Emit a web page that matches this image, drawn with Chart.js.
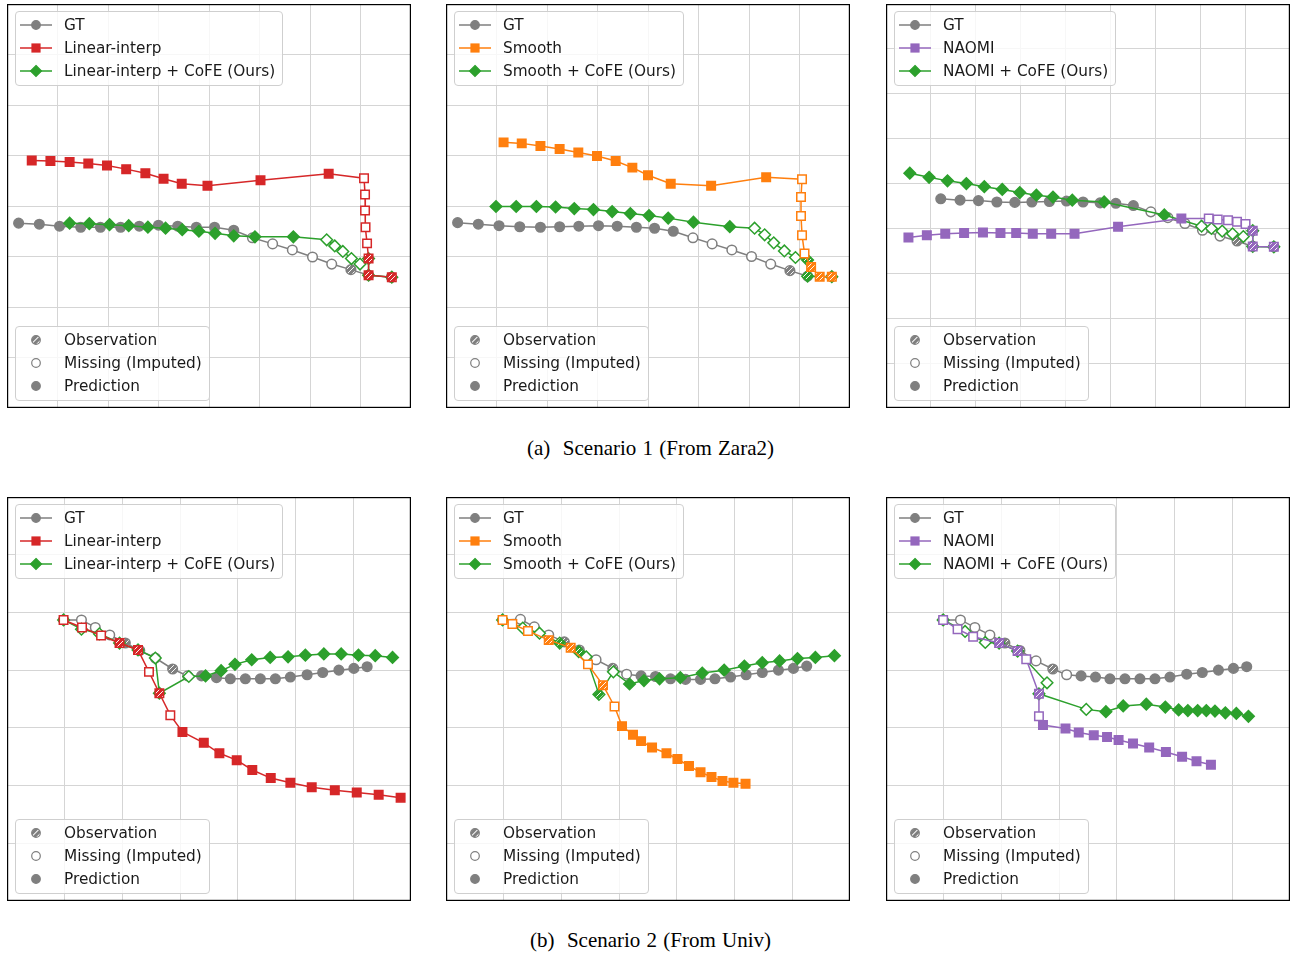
<!DOCTYPE html>
<html lang="en">
<head>
<meta charset="UTF-8">
<title>Trajectory imputation with CoFE</title>
<script src="https://cdn.jsdelivr.net/npm/chart.js"></script>
<style>
  body { margin: 0; background: #fff; width: 1291px; height: 954px; position: relative; overflow: hidden; font-family: "DejaVu Sans", sans-serif; }
  .panel { position: absolute; width: 404px; height: 404px; }
  .panel canvas { position: absolute; left: 0; top: 0; }
  .legend { position: absolute; left: 8px; z-index: 2; background: rgba(255,255,255,0.8); border: 1px solid #cfcfcf; border-radius: 4px; padding: 1px 7px 3px 4px; font-size: 15.3px; color: #1a1a1a; }
  .legend.top { top: 7px; }
  .legend.bottom { bottom: 7px; }
  .row { height: 23px; display: flex; align-items: center; white-space: nowrap; }
  .row svg { flex: none; margin-right: 12px; }
  .caption { position: absolute; left: 0; width: 1301px; text-align: center; font-family: "Liberation Serif", "Times New Roman", serif; font-size: 21px; word-spacing: 1px; color: #000; }
</style>
</head>
<body>
<svg width="0" height="0" style="position:absolute">
  <defs>
    <pattern id="hatchGray" width="4" height="4" patternUnits="userSpaceOnUse" patternTransform="rotate(45)">
      <rect width="4" height="4" fill="#7f7f7f"></rect>
      <rect width="1" height="4" fill="#fff"></rect>
    </pattern>
  </defs>
</svg>

<div class="caption" style="top:436px">(a)&nbsp; Scenario 1 (From Zara2)</div>
<div class="caption" style="top:928px">(b)&nbsp; Scenario 2 (From Univ)</div>

<script>
// trajectories in grid units (x right, y up); point kinds: h = observation, o = missing (imputed), f = prediction
const p1Gt = [[0.23,3.66],[0.64,3.64],[1.04,3.60],[1.46,3.58],[1.85,3.58],[2.25,3.58],[2.62,3.60],[3.00,3.62],[3.38,3.60],[3.75,3.58],[4.11,3.58],[4.49,3.52],[4.86,3.37],[5.26,3.25],[5.65,3.13],[6.05,2.99],[6.43,2.85],[6.81,2.74],[7.16,2.63],[7.61,2.59]];
const p1Base = [[0.49,4.90],[0.86,4.89],[1.24,4.87],[1.61,4.84],[1.98,4.80],[2.36,4.73],[2.74,4.65],[3.10,4.54],[3.46,4.44],[3.97,4.40],[5.02,4.51],[6.37,4.64],[7.07,4.55],[7.09,4.23],[7.09,3.91],[7.10,3.58],[7.13,3.26],[7.16,2.96],[7.16,2.63],[7.62,2.59]];
const p1Cofe = [[1.24,3.66],[1.63,3.65],[2.03,3.63],[2.41,3.61],[2.79,3.58],[3.14,3.56],[3.47,3.53],[3.80,3.50],[4.12,3.46],[4.49,3.41],[4.91,3.39],[5.67,3.39],[6.33,3.33],[6.49,3.21],[6.65,3.10],[6.82,2.96],[6.99,2.85],[7.16,2.96],[7.16,2.63],[7.62,2.59]];

const p2Gt = [[0.23,3.67],[0.64,3.64],[1.05,3.61],[1.46,3.59],[1.87,3.58],[2.25,3.59],[2.63,3.60],[3.02,3.61],[3.39,3.60],[3.77,3.58],[4.13,3.56],[4.50,3.50],[4.89,3.37],[5.27,3.25],[5.66,3.13],[6.05,3.00],[6.43,2.85],[6.81,2.72],[7.16,2.61],[7.64,2.60]];
const p2Base = [[1.14,5.26],[1.50,5.24],[1.87,5.19],[2.25,5.13],[2.62,5.06],[2.99,4.99],[3.36,4.89],[3.69,4.76],[4.00,4.61],[4.45,4.44],[5.25,4.40],[6.34,4.57],[7.05,4.53],[7.03,4.18],[7.03,3.80],[7.05,3.42],[7.10,3.06],[7.23,2.79],[7.40,2.60],[7.64,2.60]];
const p2Cofe = [[0.99,3.99],[1.39,3.99],[1.79,3.99],[2.17,3.98],[2.54,3.95],[2.92,3.93],[3.29,3.89],[3.65,3.85],[4.02,3.81],[4.40,3.76],[4.90,3.68],[5.62,3.59],[6.11,3.56],[6.31,3.43],[6.49,3.27],[6.70,3.11],[6.92,2.98],[7.16,2.93],[7.16,2.61],[7.64,2.60]];

const p3Gt = [[1.22,4.66],[1.65,4.63],[2.06,4.62],[2.47,4.59],[2.87,4.58],[3.25,4.59],[3.64,4.60],[4.02,4.61],[4.39,4.59],[4.77,4.57],[5.12,4.56],[5.51,4.51],[5.90,4.37],[6.28,4.24],[6.66,4.11],[7.05,3.96],[7.44,3.83],[7.82,3.72],[8.17,3.60],[8.64,3.59]];
const p3Base = [[0.50,3.80],[0.91,3.85],[1.32,3.88],[1.74,3.90],[2.16,3.91],[2.55,3.90],[2.90,3.90],[3.27,3.88],[3.68,3.88],[4.20,3.88],[5.17,4.04],[6.58,4.22],[7.19,4.22],[7.39,4.20],[7.62,4.18],[7.82,4.15],[8.01,4.10],[8.17,3.95],[8.17,3.60],[8.64,3.59]];
const p3Cofe = [[0.53,5.23],[0.96,5.14],[1.37,5.06],[1.79,5.00],[2.19,4.93],[2.59,4.87],[2.98,4.80],[3.35,4.74],[3.72,4.70],[4.15,4.63],[4.86,4.59],[6.20,4.30],[7.03,4.05],[7.25,4.00],[7.49,3.94],[7.72,3.88],[7.96,3.82],[8.17,3.95],[8.17,3.60],[8.64,3.59]];

const p4Gt = [[0.98,4.87],[1.29,4.87],[1.53,4.74],[1.78,4.61],[2.05,4.47],[2.30,4.34],[2.57,4.21],[2.87,4.02],[3.13,3.90],[3.37,3.90],[3.63,3.87],[3.87,3.85],[4.13,3.85],[4.39,3.85],[4.65,3.85],[4.91,3.88],[5.20,3.92],[5.47,3.96],[5.75,4.00],[6.01,4.03],[6.24,4.06]];
const p4Base = [[0.98,4.87],[1.30,4.74],[1.63,4.60],[1.95,4.47],[2.27,4.35],[2.46,3.97],[2.64,3.60],[2.83,3.22],[3.04,2.93],[3.41,2.74],[3.68,2.56],[3.98,2.44],[4.25,2.27],[4.57,2.13],[4.91,2.05],[5.28,1.97],[5.68,1.92],[6.06,1.88],[6.44,1.84],[6.82,1.79]];
const p4Cofe = [[0.98,4.87],[1.29,4.71],[1.60,4.63],[1.95,4.47],[2.27,4.35],[2.57,4.21],[2.64,3.60],[3.15,3.89],[3.44,3.90],[3.71,3.99],[3.95,4.10],[4.24,4.18],[4.56,4.22],[4.87,4.23],[5.17,4.26],[5.49,4.28],[5.79,4.28],[6.09,4.26],[6.38,4.25],[6.68,4.22]];

const p5Gt = [[0.98,4.87],[1.29,4.88],[1.53,4.75],[1.78,4.61],[2.05,4.49],[2.31,4.35],[2.60,4.18],[2.89,4.03],[3.13,3.93],[3.38,3.90],[3.63,3.89],[3.89,3.85],[4.15,3.84],[4.41,3.84],[4.66,3.85],[4.93,3.88],[5.20,3.92],[5.48,3.96],[5.76,4.00],[6.02,4.03],[6.25,4.07]];
const p5Base = [[0.98,4.87],[1.15,4.80],[1.42,4.68],[1.78,4.52],[2.16,4.39],[2.46,4.10],[2.72,3.74],[2.92,3.37],[3.05,3.03],[3.24,2.88],[3.38,2.77],[3.57,2.66],[3.82,2.56],[4.01,2.46],[4.21,2.34],[4.41,2.23],[4.60,2.15],[4.79,2.08],[4.98,2.05],[5.19,2.03]];
const p5Cofe = [[0.98,4.87],[1.33,4.73],[1.62,4.64],[1.97,4.47],[2.30,4.32],[2.43,4.23],[2.65,3.58],[2.90,3.97],[3.18,3.76],[3.43,3.82],[3.70,3.85],[4.06,3.87],[4.44,3.95],[4.82,4.00],[5.17,4.07],[5.48,4.13],[5.78,4.16],[6.09,4.20],[6.40,4.22],[6.73,4.25]];

const p6Gt = [[0.99,4.87],[1.29,4.87],[1.54,4.74],[1.80,4.61],[2.06,4.47],[2.32,4.34],[2.60,4.16],[2.89,4.02],[3.13,3.92],[3.38,3.90],[3.63,3.88],[3.88,3.85],[4.14,3.85],[4.40,3.85],[4.66,3.85],[4.92,3.88],[5.21,3.93],[5.48,3.96],[5.76,4.00],[6.02,4.03],[6.25,4.06]];
const p6Base = [[0.99,4.87],[1.24,4.71],[1.51,4.58],[1.96,4.47],[2.28,4.33],[2.43,4.19],[2.65,3.59],[2.65,3.20],[2.72,3.05],[3.11,2.99],[3.34,2.92],[3.60,2.87],[3.83,2.84],[4.03,2.79],[4.28,2.73],[4.56,2.66],[4.85,2.58],[5.13,2.50],[5.38,2.42],[5.63,2.36]];
const p6Cofe = [[0.99,4.87],[1.37,4.67],[1.72,4.48],[1.96,4.47],[2.28,4.33],[2.79,3.78],[2.65,3.59],[3.47,3.32],[3.81,3.28],[4.11,3.38],[4.51,3.41],[4.84,3.36],[5.07,3.31],[5.23,3.30],[5.40,3.30],[5.55,3.30],[5.70,3.29],[5.88,3.26],[6.07,3.25],[6.28,3.20]];

const kindS1 = 'ffffffffffffooooohhh';
const kindGtS2 = 'hooohhohoffffffffffff';
const kindBaseS2 = 'ooohhohoffffffffffff';
const kindCofeS2 = 'hoohhohoffffffffffff';

const methods = ['Linear-interp', 'Smooth', 'NAOMI'];
const methodColors = ['#d62728', '#ff7f0e', '#9467bd'];
const markLabels = ['Observation', 'Missing (Imputed)', 'Prediction'];
const gridCounts = [8, 8, 9, 7, 7, 7];

const GRAY = '#7f7f7f';
const GREEN = '#2ca02c';

const panels = [
  { left: 7,   top: 4,   n: gridCounts[0], m: 0, gt: p1Gt, base: p1Base, cofe: p1Cofe, kGt: kindS1, kBase: kindS1, kCofe: kindS1 },
  { left: 446, top: 4,   n: gridCounts[1], m: 1, gt: p2Gt, base: p2Base, cofe: p2Cofe, kGt: kindS1, kBase: kindS1, kCofe: kindS1 },
  { left: 886, top: 4,   n: gridCounts[2], m: 2, gt: p3Gt, base: p3Base, cofe: p3Cofe, kGt: kindS1, kBase: kindS1, kCofe: kindS1 },
  { left: 7,   top: 497, n: gridCounts[3], m: 0, gt: p4Gt, base: p4Base, cofe: p4Cofe, kGt: kindGtS2, kBase: kindBaseS2, kCofe: kindCofeS2 },
  { left: 446, top: 497, n: gridCounts[4], m: 1, gt: p5Gt, base: p5Base, cofe: p5Cofe, kGt: kindGtS2, kBase: kindBaseS2, kCofe: kindCofeS2 },
  { left: 886, top: 497, n: gridCounts[5], m: 2, gt: p6Gt, base: p6Base, cofe: p6Cofe, kGt: kindGtS2, kBase: kindBaseS2, kCofe: kindCofeS2 }
];

// small tile with white diagonal stripes for observation markers
function hatchTile(color) {
  const c = document.createElement('canvas');
  c.width = 5; c.height = 5;
  const g = c.getContext('2d');
  g.fillStyle = color;
  g.fillRect(0, 0, 5, 5);
  g.strokeStyle = 'rgba(255,255,255,0.95)';
  g.lineWidth = 1;
  g.beginPath();
  g.moveTo(0, 5); g.lineTo(5, 0);
  g.moveTo(-2.5, 2.5); g.lineTo(2.5, -2.5);
  g.moveTo(2.5, 7.5); g.lineTo(7.5, 2.5);
  g.stroke();
  return c;
}

function series(label, pts, kinds, color, style, radius, order, cx) {
  const pat = cx.createPattern(hatchTile(color), 'repeat');
  return {
    label: label,
    order: order,
    data: pts.map(p => ({ x: p[0], y: p[1] })),
    showLine: true,
    borderColor: color,
    borderWidth: 1.5,
    pointStyle: style,
    pointRadius: radius,
    pointBorderColor: color,
    pointBorderWidth: 1.5,
    pointBackgroundColor: kinds.split('').map(k => k === 'f' ? color : (k === 'o' ? '#ffffff' : pat)),
    clip: false
  };
}

const framePlugin = {
  id: 'frame',
  afterDraw(chart) {
    const { ctx, chartArea: a } = chart;
    ctx.save();
    ctx.strokeStyle = '#000';
    ctx.lineWidth = 1.2;
    ctx.strokeRect(a.left + 0.6, a.top + 0.6, a.right - a.left - 1.2, a.bottom - a.top - 1.2);
    ctx.restore();
  }
};

function marker(kind, color, fill) {
  if (kind === 'circle') return `<circle cx="16" cy="8" r="4.3" fill="${fill}" stroke="${color}" stroke-width="1.2"/>`;
  if (kind === 'rect') return `<rect x="12" y="4" width="8" height="8" fill="${fill}" stroke="${color}" stroke-width="1.2"/>`;
  return `<polygon points="16,2.5 21.5,8 16,13.5 10.5,8" fill="${fill}" stroke="${color}" stroke-width="1.2"/>`;
}

function lineRow(text, color, kind) {
  return `<div class="row"><svg width="32" height="16"><line x1="0" y1="8" x2="32" y2="8" stroke="${color}" stroke-width="1.5"/>${marker(kind, color, color)}</svg><span>${text}</span></div>`;
}

function markRow(text, fill) {
  return `<div class="row"><svg width="32" height="16">${marker('circle', GRAY, fill)}</svg><span>${text}</span></div>`;
}

panels.forEach((p, i) => {
  const div = document.createElement('div');
  div.className = 'panel';
  div.style.left = p.left + 'px';
  div.style.top = p.top + 'px';
  const canvas = document.createElement('canvas');
  canvas.width = 404; canvas.height = 404;
  div.appendChild(canvas);

  const name = methods[p.m];
  const col = methodColors[p.m];
  const top = document.createElement('div');
  top.className = 'legend top';
  top.innerHTML = lineRow('GT', GRAY, 'circle') + lineRow(name, col, 'rect') + lineRow(name + ' + CoFE (Ours)', GREEN, 'diamond');
  div.appendChild(top);

  const bottom = document.createElement('div');
  bottom.className = 'legend bottom';
  bottom.innerHTML = markRow(markLabels[0], 'url(#hatchGray)') + markRow(markLabels[1], '#ffffff') + markRow(markLabels[2], GRAY);
  div.appendChild(bottom);
  document.body.appendChild(div);

  const cx = canvas.getContext('2d');
  const axis = {
    type: 'linear', min: 0, max: p.n,
    ticks: { display: false, stepSize: 1 },
    grid: { color: '#d5d5d5', lineWidth: 1, drawTicks: false },
    border: { display: false }
  };
  new Chart(cx, {
    type: 'scatter',
    data: {
      datasets: [
        series(name, p.base, p.kBase, col, 'rect', 6, 1, cx),
        series(name + ' + CoFE (Ours)', p.cofe, p.kCofe, GREEN, 'rectRot', 5.8, 2, cx),
        series('GT', p.gt, p.kGt, GRAY, 'circle', 4.8, 3, cx)
      ]
    },
    options: {
      responsive: false,
      animation: false,
      layout: { padding: 0, autoPadding: false },
      scales: { x: axis, y: axis },
      plugins: { legend: { display: false }, tooltip: { enabled: false } }
    },
    plugins: [framePlugin]
  });
});
</script>
</body>
</html>
